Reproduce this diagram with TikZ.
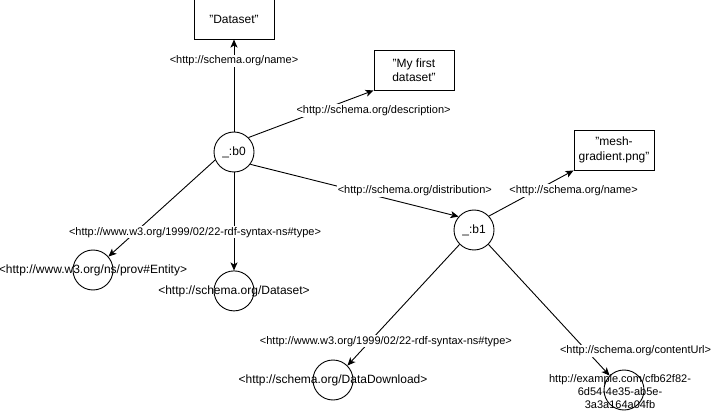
\documentclass[tikz,border=0pt]{standalone}
\usepackage{fontspec}
\setmainfont{Liberation Sans}
\usetikzlibrary{arrows.meta,positioning}

\tikzset{
    blank/.style={draw, circle, line width=0.9pt, minimum size=40pt, inner sep=0pt, font=\fontsize{12}{14}\selectfont},
    lit/.style={draw, rectangle, line width=0.9pt, minimum width=80pt, minimum height=40pt, inner sep=0pt, align=center, font=\fontsize{12}{14.5}\selectfont},
    res/.style={draw, circle, line width=0.9pt, minimum size=40pt, inner sep=0pt},
    uri/.style={font=\fontsize{12}{14}\selectfont},
    link/.style={-{Stealth[length=8pt,width=7pt,inset=2pt]}, line width=0.9pt},
    pred/.style={fill=white, inner sep=1pt, font=\fontsize{11}{13}\selectfont}
}

\begin{document}
\begin{tikzpicture}[x=1pt, y=-1pt]

            \useasboundingbox (0,0) rectangle (711,419);

            % Nodes

            \node[blank] (b0) at (234,152) {\_:b0};
            \node[lit, above=92pt of b0] (nameb0) {"Dataset"};
            \node[lit] (descb0) at (414,70) {"My first\\dataset"};
            \node[res, below=98pt of b0, label={[uri]center:{<http://schema.org/Dataset>}}] (typeb0) {};
            \node[res, label={[uri]center:{<http://www.w3.org/ns/prov\#Entity>}}] (ent) at (93,270) {};
            \node[blank] (b1) at (474,230) {\_:b1};
            \node[lit] (nameb1) at (614,150) {"mesh-\\gradient.png"};
            \node[res, label={[uri]center:{<http://schema.org/DataDownload>}}] (dl) at (333,380) {};
            \node[res, label={[align=center, font=\fontsize{11}{13}\selectfont, xshift=-4pt, yshift=-2pt]center:{http://example.com/cfb62f82-\\6d54-4e35-ab5e-\\3a3a164a04fb}}] (url) at (624,390) {};

            % Edges

            \draw[link] (b0) -- (nameb0) node [pred, pos=0.77] {<http://schema.org/name>};
            \draw[link] (b0.45) -- (descb0.south west) node [pred, pos=1, yshift=-20pt] {<http://schema.org/description>};
            \draw[link] (b0.-37) -- (b1.139) node [pred, pos=0.79, yshift=15pt] {<http://schema.org/distribution>};
            \draw[link] (b0.203) -- (ent.41);
            \draw[link] (b0) -- (typeb0) node [pred, pos=0.61, xshift=-39pt] {<http://www.w3.org/1999/02/22-rdf-syntax-ns\#type>};
            \draw[link] (b1.43) -- (nameb1.south west) node [pred, pos=1, yshift=-20pt] {<http://schema.org/name>};
            \draw[link] (b1.225) -- (dl.45) node [pred, pos=0.8, xshift=16pt] {<http://www.w3.org/1999/02/22-rdf-syntax-ns\#type>};
            \draw[link] (b1.-45) -- (url.135) node [pred, pos=0.81, xshift=49pt] {<http://schema.org/contentUrl>};

\end{tikzpicture}
\end{document}
